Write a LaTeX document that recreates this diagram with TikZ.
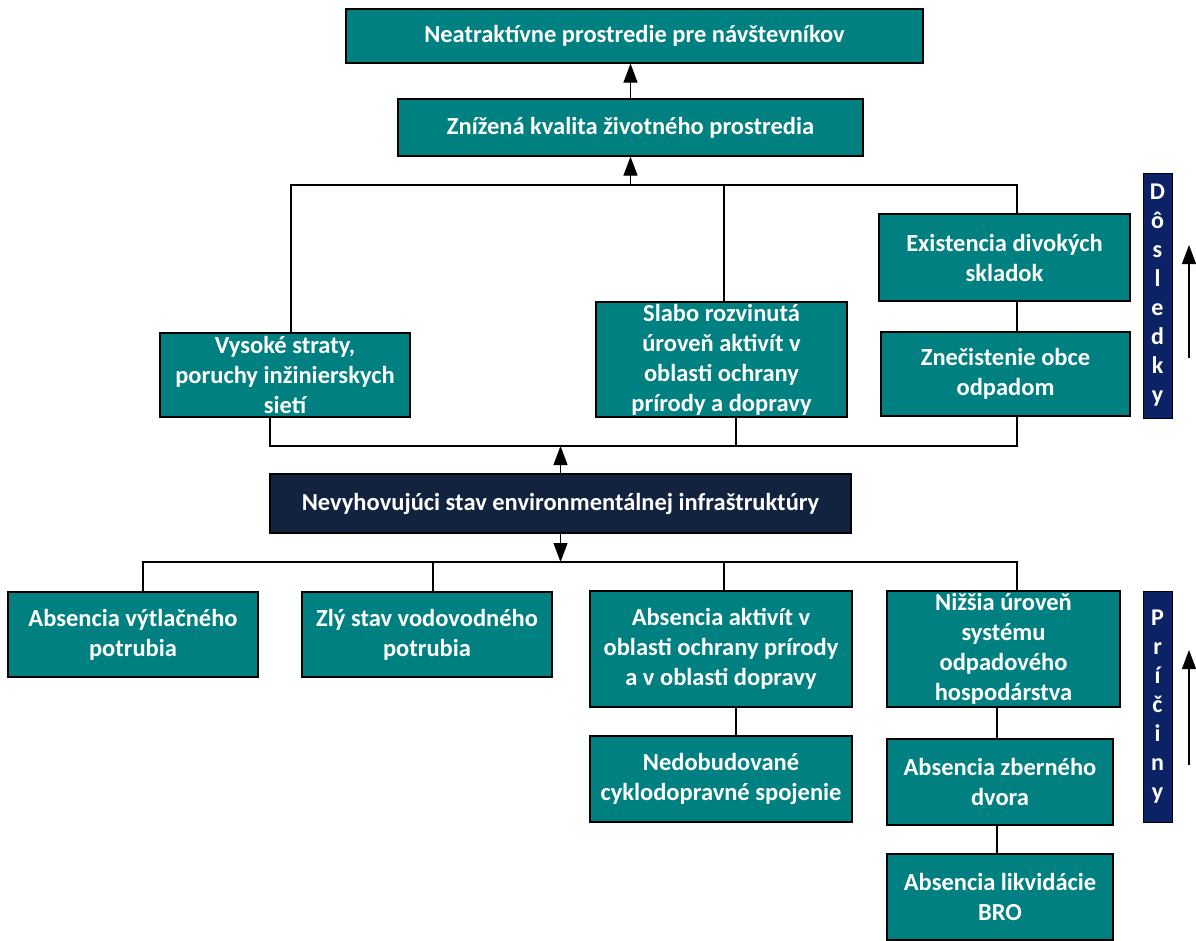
\documentclass[tikz,border=0pt]{standalone}
\usepackage{fontspec}
\setmainfont{Carlito}
\usepackage{tikz}
\usetikzlibrary{arrows.meta,positioning,calc}
\definecolor{EffTeal}{HTML}{008080}
\definecolor{CoreNavy}{HTML}{13233F}
\definecolor{SideNavy}{HTML}{0C2266}

\begin{document}
\begin{tikzpicture}[x=1pt,y=-1pt,
  box/.style={draw=black,line width=1.2pt,fill=EffTeal,text=white,align=center,
    font=\fontsize{24.5}{30}\selectfont\bfseries,inner sep=1pt},
  core/.style={box,fill=CoreNavy},
  side/.style={draw=black,line width=1pt,fill=SideNavy,text=white,align=center,
    font=\fontsize{24}{29}\selectfont\bfseries,minimum width=29pt,inner sep=0pt},
  link/.style={line width=1.2pt},
  arrow/.style={link,-{Triangle[length=19pt,width=14pt]}}
]
  \useasboundingbox (0,0) rectangle (1196,940);

  % consequences
  \node[box, minimum width=577pt, minimum height=54pt] (top) at (634.5,36) {Neatraktívne prostredie pre návštevníkov};
  \node[box, minimum width=465pt, minimum height=57pt] (zniz) at (630.5,127.5) {Znížená kvalita životného prostredia};
  \node[box, minimum width=250pt, minimum height=84pt] (vys) at (285,375) {Vysoké straty,\\poruchy inžinierskych\\sietí};
  \node[box, minimum width=251pt, minimum height=115pt] (slabo) at (721.5,359.5) {Slabo rozvinutá\\úroveň aktivít v\\oblasti ochrany\\prírody a dopravy};
  \node[box, minimum width=251pt, minimum height=87pt] (exist) at (1004.5,257.5) {Existencia divokých\\skladok};
  \node[box, minimum width=249pt, minimum height=84pt] (znec) at (1005.5,374) {Znečistenie obce\\odpadom};

  % core problem
  \node[core, minimum width=581pt, minimum height=59pt] (nevy) at (560.5,503.5) {Nevyhovujúci stav environmentálnej infraštruktúry};

  % causes
  \node[box, minimum width=250pt, minimum height=85pt] (abs1) at (133,634.5) {Absencia výtlačného\\potrubia};
  \node[box, minimum width=250pt, minimum height=85pt] (zly) at (427,634.5) {Zlý stav vodovodného\\potrubia};
  \node[box, minimum width=262pt, minimum height=116pt] (absakt) at (721,649) {Absencia aktivít v\\oblasti ochrany prírody\\a v oblasti dopravy};
  \node[box, minimum width=233pt, minimum height=116pt] (nizsia) at (1003.5,649) {Nižšia úroveň\\systému\\odpadového\\hospodárstva};
  \node[box, minimum width=262pt, minimum height=86pt] (nedob) at (721,779) {Nedobudované\\cyklodopravné spojenie};
  \node[box, minimum width=226pt, minimum height=86pt] (abszb) at (1000,782) {Absencia zberného\\dvora};
  \node[box, minimum width=226pt, minimum height=86pt] (abslik) at (1000,897) {Absencia likvidácie\\BRO};

  % side labels
  \node[side, minimum height=245pt] (dosl) at (1157.5,295.5) {D\\ô\\s\\l\\e\\d\\k\\y};
  \node[side, minimum height=231pt] (pric) at (1157.5,706.5) {P\\r\\í\\č\\i\\n\\y};
  \coordinate (doslA) at (1189,358);
  \coordinate (doslB) at (1189,245);
  \coordinate (pricA) at (1189,765);
  \coordinate (pricB) at (1189,650);
  \draw[arrow] (doslA) -- (doslB);
  \draw[arrow] (pricA) -- (pricB);

  % upper bus
  \coordinate (busU) at (630.5,185);
  \draw[arrow] (zniz.north) -- (zniz.north |- top.south);
  \draw[arrow] (busU) -- (zniz.south);
  \draw[link] ([xshift=6pt]vys.north) |- (busU) -| ([xshift=12.5pt]exist.north);
  \draw[link] ([xshift=2.5pt]slabo.north) -- ([xshift=2.5pt]slabo.north |- busU);
  \draw[link] ([xshift=11.5pt]znec.north) -- ([xshift=11.5pt]znec.north |- exist.south);

  % lower bus
  \coordinate (busL) at (560.5,446);
  \draw[link] ([xshift=-15pt]vys.south) |- (busL) -| ([xshift=11.5pt]znec.south);
  \draw[link] ([xshift=14.5pt]slabo.south) -- ([xshift=14.5pt]slabo.south |- busL);
  \draw[arrow] (nevy.north) -- (busL);

  % causes bus
  \coordinate (busC) at (560.5,562);
  \draw[arrow] (nevy.south) -- (busC);
  \draw[link] ([xshift=10pt]abs1.north) |- (busC) -| ([xshift=13.5pt]nizsia.north);
  \draw[link] ([xshift=6pt]zly.north) -- ([xshift=6pt]zly.north |- busC);
  \draw[link] ([xshift=3pt]absakt.north) -- ([xshift=3pt]absakt.north |- busC);
  \draw[link] ([xshift=15pt]absakt.south) -- ([xshift=15pt]nedob.north);
  \draw[link] ([xshift=-3pt]abszb.north) -- ([xshift=-3pt]abszb.north |- nizsia.south);
  \draw[link] ([xshift=-3pt]abszb.south) -- ([xshift=-3pt]abslik.north);
\end{tikzpicture}
\end{document}
